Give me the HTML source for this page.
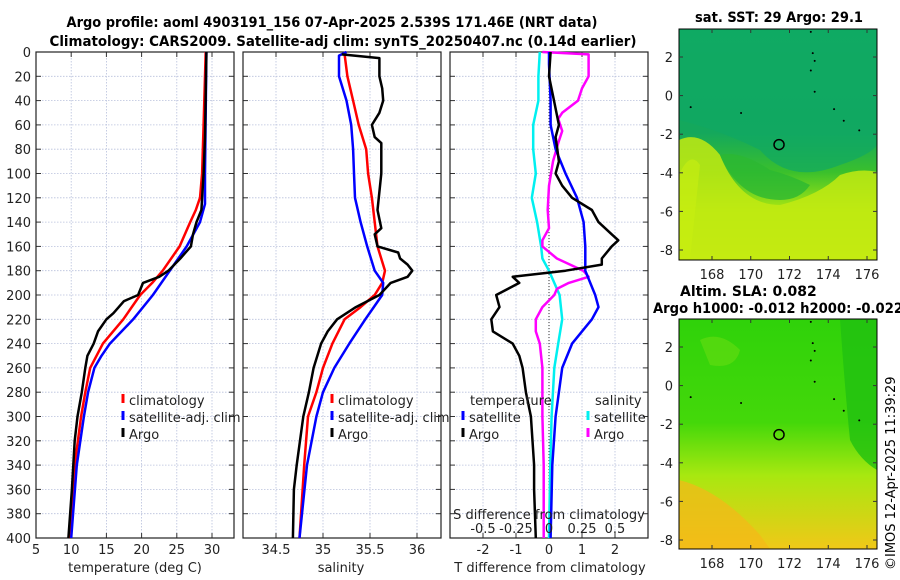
<!DOCTYPE html>
<html><head><meta charset="utf-8">
<style>
html,body{margin:0;padding:0;background:#fff;}
svg{display:block;font-family:"DejaVu Sans","Liberation Sans",sans-serif;}
</style></head>
<body>
<svg id="fig" width="900" height="580" viewBox="0 0 900 580">
<defs>
<linearGradient id="sstg" x1="0" y1="0" x2="0" y2="1">
<stop offset="0" stop-color="#10ad62"/><stop offset="0.45" stop-color="#14a85c"/><stop offset="0.62" stop-color="#3ac02c"/><stop offset="0.78" stop-color="#a8e612"/><stop offset="1" stop-color="#d0ee10"/>
</linearGradient>
<linearGradient id="slag" x1="0" y1="0" x2="0" y2="1">
<stop offset="0" stop-color="#2fd20a"/><stop offset="0.45" stop-color="#44d80a"/><stop offset="0.68" stop-color="#a8e810"/><stop offset="1" stop-color="#f0c818"/>
</linearGradient>
<clipPath id="m1c"><rect x="679" y="29" width="198" height="231"/></clipPath>
<clipPath id="m2c"><rect x="679" y="319" width="198" height="230"/></clipPath>
</defs>
<text x="332" y="27" text-anchor="middle" font-size="14" font-weight="bold" textLength="531" lengthAdjust="spacingAndGlyphs">Argo profile: aoml 4903191_156 07-Apr-2025 2.539S 171.46E (NRT data)</text>
<text x="343" y="46" text-anchor="middle" font-size="14" font-weight="bold" textLength="587" lengthAdjust="spacingAndGlyphs">Climatology: CARS2009. Satellite-adj clim: synTS_20250407.nc (0.14d earlier)</text>
<g id="panels"></g>
<g>
<g clip-path="url(#m1c)">
<rect x="679" y="29" width="198" height="231" fill="url(#sstg)"/>
<path d="M679 120 Q720 130 760 150 Q790 185 840 165 Q870 155 877 145 L877 29 L679 29 Z" fill="#10a864" opacity="0.7"/>
<path d="M679 240 L679 140 Q700 130 720 155 Q740 205 780 205 Q820 195 840 175 Q860 168 877 172 L877 260 L679 260 Z" fill="#c2ea12" opacity="0.85"/>
<path d="M720 155 Q740 200 780 200 Q800 200 810 185 Q790 175 770 170 Q740 150 720 155 Z" fill="#2cb832" opacity="0.8"/>
<path d="M679 175 Q690 150 700 165 L690 260 L679 260 Z" fill="#c8ee10" opacity="0.6"/>
</g>
<rect x="679" y="29" width="198" height="231" fill="none" stroke="#000" stroke-width="1"/>
</g>
<g>
<g clip-path="url(#m2c)">
<rect x="679" y="319" width="198" height="230" fill="url(#slag)"/>
<path d="M790 319 L840 319 Q845 390 850 440 Q860 460 877 470 L877 319 Z" fill="#20c010" opacity="0.8"/>
<path d="M679 549 L679 480 Q720 490 760 535 L770 549 Z" fill="#f5b818" opacity="0.7"/>
<path d="M700 340 Q720 330 740 350 Q735 370 710 365 Z" fill="#60dc10" opacity="0.7"/>
</g>
<rect x="679" y="319" width="198" height="230" fill="none" stroke="#000" stroke-width="1"/>
</g>
<g id="maps"></g>
<text x="779" y="22" text-anchor="middle" font-size="14" font-weight="bold" textLength="168" lengthAdjust="spacingAndGlyphs">sat. SST: 29 Argo: 29.1</text>
<text x="680" y="296" font-size="14" font-weight="bold">Altim. SLA: 0.082</text>
<text x="653" y="313" font-size="14" font-weight="bold" textLength="250" lengthAdjust="spacingAndGlyphs">Argo h1000: -0.012 h2000: -0.022</text>
<text transform="translate(895,570) rotate(-90)" font-size="13">©IMOS 12-Apr-2025 11:39:29</text>
</svg>
<script>
// ---- data ----
const tempDepths=[0,20,60,100,120,130,140,160,180,190,200,220,240,260,280,300,340,400];
const tempClim=[29.1,29.0,28.8,28.6,28.3,27.7,26.9,25.4,23.0,21.5,19.8,17.4,14.5,12.7,12.0,11.4,10.5,9.7];
const tempSatDepths=[0,100,125,140,160,180,200,220,240,250,260,280,300,340,400];
const tempSat=[29.2,29.0,29.0,28.3,26.4,24.0,21.6,18.8,15.5,14.3,13.3,12.4,11.8,10.8,10.0];
const tempArgoDepths=[0,70,100,130,140,150,160,170,180,185,190,200,205,215,220,230,240,250,260,280,300,320,360,400];
const tempArgo=[29.2,29.0,28.8,28.5,27.8,27.3,27.0,25.5,23.8,22.5,20.2,19.5,17.5,16.0,15.0,13.8,13.2,12.3,12.0,11.5,10.9,10.5,10.1,9.6];

const salDepths=[2,20,40,60,80,100,120,140,160,180,190,200,210,220,240,260,280,300,340,400];
const salClim=[35.23,35.26,35.32,35.38,35.46,35.48,35.52,35.55,35.58,35.66,35.63,35.55,35.4,35.23,35.1,35.0,34.93,34.84,34.8,34.75];
const salSatDepths=[0,3,20,40,60,80,100,120,140,160,180,190,200,210,220,240,260,280,300,340,400];
const salSat=[35.25,35.17,35.17,35.25,35.3,35.32,35.33,35.34,35.4,35.47,35.55,35.64,35.63,35.54,35.45,35.28,35.12,35.0,34.93,34.83,34.75];
const salArgoDepths=[2,5,20,30,40,50,60,70,75,100,130,145,150,160,165,170,175,180,185,190,200,210,220,230,240,260,280,300,340,360,400];
const salArgo=[35.2,35.6,35.6,35.63,35.64,35.6,35.52,35.55,35.62,35.62,35.58,35.62,35.55,35.58,35.8,35.82,35.9,35.95,35.9,35.72,35.6,35.35,35.15,35.05,34.98,34.9,34.85,34.79,34.72,34.69,34.68];

const dTSatDepths=[0,10,40,60,80,100,120,140,160,180,200,210,220,240,260,280,300,340,400];
const dTSat=[0,0,0.05,0.05,0.2,0.5,0.85,1.05,1.1,1.1,1.4,1.5,1.3,0.7,0.4,0.3,0.2,0.1,0.05];
const dTArgoDepths=[0,20,40,60,70,80,90,100,110,120,130,140,150,155,160,170,175,180,185,190,200,210,220,230,240,250,260,280,300,320,340,360,400];
const dTArgo=[0.05,0,0.15,0.3,0.2,0.25,0.3,0.2,0.4,0.7,1.3,1.5,1.9,2.1,1.9,1.6,1.6,0.5,-1.1,-0.9,-1.6,-1.5,-1.75,-1.7,-1.1,-0.9,-0.8,-0.7,-0.55,-0.5,-0.45,-0.45,-0.4];
const dSSatDepths=[0,20,40,60,80,100,120,140,160,170,180,190,200,220,240,260,300,340,400];
const dSSat=[-0.07,-0.08,-0.08,-0.12,-0.12,-0.1,-0.13,-0.09,-0.06,-0.05,0,0.04,0.08,0.1,0.07,0.04,0.02,0.01,0];
const dSArgoDepths=[0,2,20,30,40,50,55,65,75,90,110,130,145,155,160,170,175,180,185,190,195,200,210,220,230,240,260,300,340,400];
const dSArgo=[-0.05,0.3,0.3,0.25,0.22,0.1,0.07,0.1,0.07,0.03,0,-0.01,0,-0.05,-0.05,0.06,0.16,0.26,0.3,0.15,0.06,0.04,-0.05,-0.1,-0.1,-0.07,-0.05,-0.05,-0.04,-0.04];

const depthTicks=[0,20,40,60,80,100,120,140,160,180,200,220,240,260,280,300,320,340,360,380,400];
const tempTicks=[5,10,15,20,25,30];
const salTicks=[34.5,35,35.5,36];
const dTTicks=[-2,-1,0,1,2];
const dSTicks=[-0.5,-0.25,0,0.25,0.5];
const latTicks=[2,0,-2,-4,-6,-8];
const lonTicks=[168,170,172,174,176];

// ---- scales ----
const NS='http://www.w3.org/2000/svg';
const Y0=52,Y1=538;
const yD=d=>Y0+(d/400)*(Y1-Y0);
const xT=v=>36+(v-5)*7.04;
const xS=v=>276+(v-34.5)*94;
const xDT=v=>549+v*33;
const xDS=v=>549+v*132;
const panels=document.getElementById('panels');
function mk(tag,attrs,parent){const e=document.createElementNS(NS,tag);for(const k in attrs)e.setAttribute(k,attrs[k]);(parent||panels).appendChild(e);return e;}
function txt(x,y,s,anchor,size,parent){const t=mk('text',{x:x,y:y,'text-anchor':anchor||'middle','font-size':size||13,fill:'#222'},parent);t.textContent=s;return t;}

function axesBox(x0,x1,name){
  const g=mk('g',{});
  
  
  depthTicks.forEach(d=>{
    mk('line',{x1:x0,x2:x1,y1:yD(d),y2:yD(d),stroke:'#b8c0dc','stroke-width':0.8,'stroke-dasharray':'1.5,1.5'},g);
    mk('line',{x1:x0,x2:x0+5,y1:yD(d),y2:yD(d),stroke:'#333'},g);
    mk('line',{x1:x1-5,x2:x1,y1:yD(d),y2:yD(d),stroke:'#333'},g);
  });
  return g;
}
function vgrid(g,ticks,sx,x0,x1,labels){
  ticks.forEach(v=>{const x=sx(v);
    mk('line',{x1:x,x2:x,y1:Y0,y2:Y1,stroke:'#b8c0dc','stroke-width':0.8,'stroke-dasharray':'1.5,1.5'},g);
    mk('line',{x1:x,x2:x,y1:Y1,y2:Y1-5,stroke:'#333'},g);
    mk('line',{x1:x,x2:x,y1:Y0,y2:Y0+5,stroke:'#333'},g);
    if(labels)txt(x,554,String(v),'middle',13,g);
  });
}
function frame(g,x0,x1){mk('rect',{x:x0,y:Y0,width:x1-x0,height:Y1-Y0,fill:'none',stroke:'#222','stroke-width':1.2},g);}
function line(depths,vals,sx,color,name){
  const p=vals.map((v,i)=>(i?'L':'M')+sx(v).toFixed(1)+' '+yD(depths[i]).toFixed(1)).join(' ');
  const e=mk('path',{d:p,fill:'none',stroke:color,'stroke-width':2.5,'stroke-linejoin':'round'});
  
  
}
function legend(x,y,entries,g){
  entries.forEach((en,i)=>{
    mk('line',{x1:x,x2:x,y1:y+i*17-6,y2:y+i*17+3,stroke:en[1],'stroke-width':3},g);
    const t=txt(x+6,y+i*17+5,en[0],'start',13,g);
    
    
  });
}

// Panel 1 temperature
let g1=axesBox(36,234,'temperature-panel');
vgrid(g1,tempTicks,xT,36,234,true);
depthTicks.forEach(d=>txt(31,yD(d)+5,String(d),'end',13,g1));
txt(135,572,'temperature (deg C)','middle',13,g1);
line(tempDepths,tempClim,xT,'#ff0000','temp-climatology-line');
line(tempSatDepths,tempSat,xT,'#0000ff','temp-satellite-line');
line(tempArgoDepths,tempArgo,xT,'#000000','temp-argo-line');
frame(g1,36,234);
let l1=mk('g',{});
legend(123,400,[['climatology','#ff0000'],['satellite-adj. clim','#0000ff'],['Argo','#000']],l1);

// Panel 2 salinity
let g2=axesBox(243,441,'salinity-panel');
vgrid(g2,salTicks,xS,243,441,true);
txt(341,572,'salinity','middle',13,g2);
line(salDepths,salClim,xS,'#ff0000','sal-climatology-line');
line(salSatDepths,salSat,xS,'#0000ff','sal-satellite-line');
line(salArgoDepths,salArgo,xS,'#000000','sal-argo-line');
frame(g2,243,441);
let l2=mk('g',{});
legend(332,400,[['climatology','#ff0000'],['satellite-adj. clim','#0000ff'],['Argo','#000']],l2);

// Panel 3 differences
let g3=axesBox(450,648,'difference-panel');
vgrid(g3,dTTicks,xDT,450,648,true);
mk('line',{x1:xDT(0),x2:xDT(0),y1:Y0,y2:Y1,stroke:'#333','stroke-width':1,'stroke-dasharray':'1,2'},g3);
txt(550,572,'T difference from climatology','middle',13,g3);
line(dSSatDepths,dSSat,xDS,'#00f0f0','sal-diff-satellite-line');
line(dSArgoDepths,dSArgo,xDS,'#ff00ff','sal-diff-argo-line');
line(dTSatDepths,dTSat,xDT,'#0000ff','temp-diff-satellite-line');
line(dTArgoDepths,dTArgo,xDT,'#000000','temp-diff-argo-line');
frame(g3,450,648);
let l3=mk('g',{});
txt(470,405,'temperature','start',13,l3);
txt(595,405,'salinity','start',13,l3);
legend(463,417,[['satellite','#0000ff'],['Argo','#000']],l3);
legend(588,417,[['satellite','#00f0f0'],['Argo','#ff00ff']],l3);
txt(549,519,'S difference from climatology','middle',13,l3);
dSTicks.forEach(v=>txt(xDS(v),533,String(v),'middle',13,l3));

// maps ticks + markers
const maps=document.getElementById('maps');
function mapAxes(x0,x1,yTop,yBot,lat2y,lat8y,name){
  const g=mk('g',{},maps);
  
  
  const ly=v=>lat2y+(2-v)*(lat8y-lat2y)/10;
  const lx=v=>712+(v-168)*(155/8);
  latTicks.forEach(v=>{const y=ly(v);
    mk('line',{x1:x0,x2:x0+4,y1:y,y2:y,stroke:'#333'},g);
    mk('line',{x1:x1-4,x2:x1,y1:y,y2:y,stroke:'#333'},g);
    txt(x0-6,y+5,String(v),'end',13,g);});
  lonTicks.forEach(v=>{const x=lx(v);
    mk('line',{x1:x,x2:x,y1:yBot,y2:yBot-4,stroke:'#333'},g);
    mk('line',{x1:x,x2:x,y1:yTop,y2:yTop+4,stroke:'#333'},g);
    txt(x,yBot+19,String(v),'middle',13,g);});
  [[173.1,3.3],[173.2,2.2],[173.3,1.8],[173.1,1.3],[173.3,0.2],[174.3,-0.7],[174.8,-1.3],[175.6,-1.8],[166.9,-0.6],[169.5,-0.9]].forEach(p=>{
    mk('circle',{cx:lx(p[0]),cy:ly(p[1]),r:1,fill:'#000'},g);});
  const c=mk('circle',{cx:lx(171.46),cy:ly(-2.539),r:5,fill:'none',stroke:'#000','stroke-width':1.5},g);
  
  
}
mapAxes(679,877,29,260,57,250,'sst-map-axes');
mapAxes(679,877,319,549,347,540,'sla-map-axes');
</script>
</body></html>
